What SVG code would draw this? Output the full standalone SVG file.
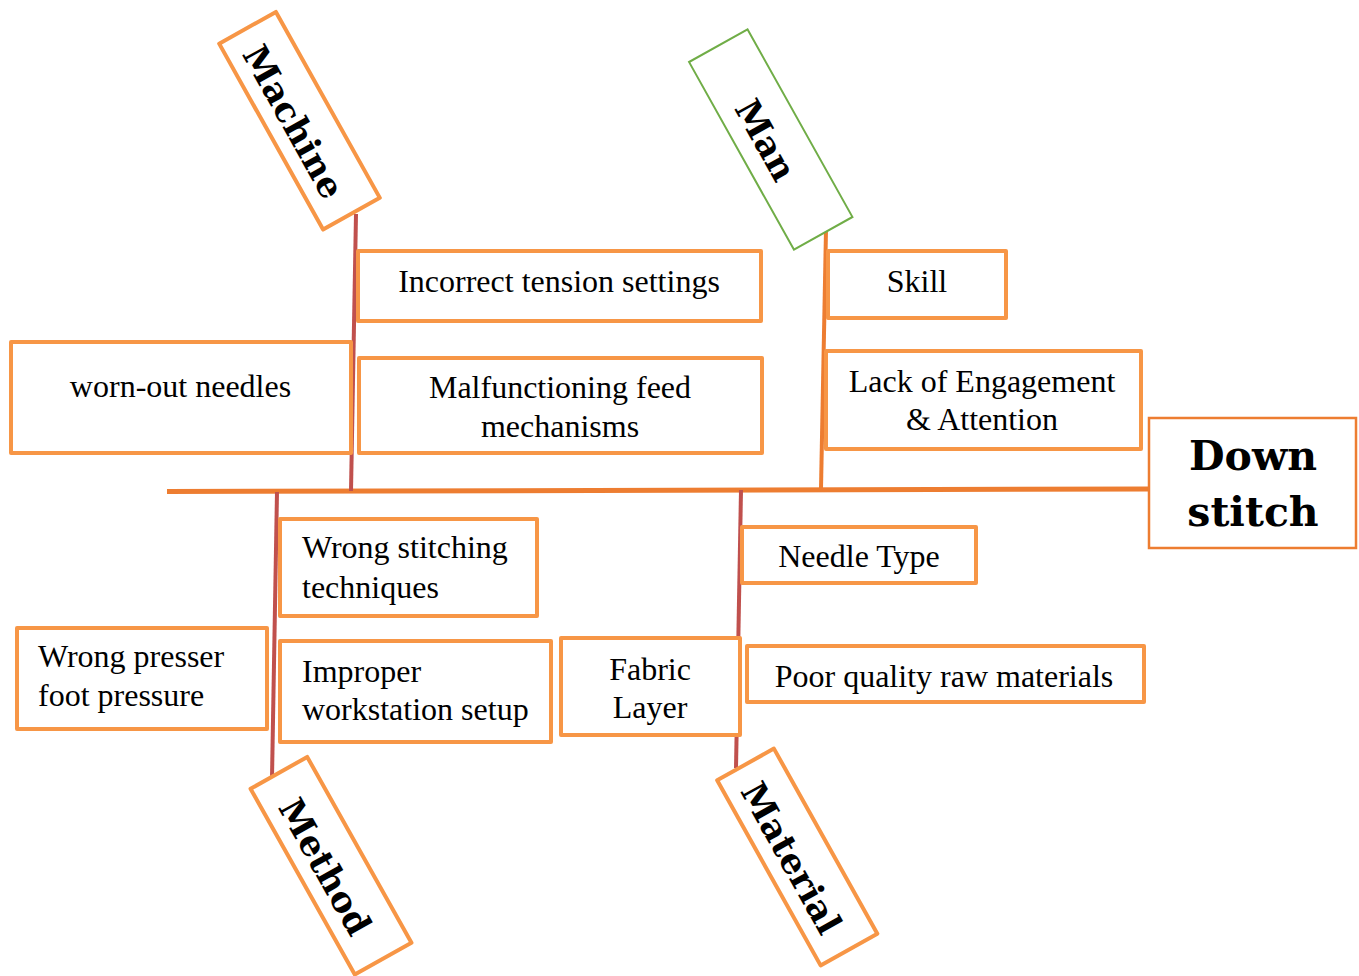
<svg xmlns="http://www.w3.org/2000/svg" width="1359" height="976" viewBox="0 0 1359 976">
  <style>
    .box { fill: #ffffff; stroke: #F79646; stroke-width: 4; stroke-linejoin: round; }
    .box-green { fill: #ffffff; stroke: #70AD47; stroke-width: 2; }
    .box-head { fill: #ffffff; stroke: #ED7D31; stroke-width: 2.5; }
    .t { font-family: "Liberation Serif", "Times New Roman", serif; font-size: 32px; fill: #000000; }
    .c { text-anchor: middle; }
    .cat { font-family: "DejaVu Serif", "Liberation Serif", serif; font-weight: bold; font-size: 35px; fill: #000000; text-anchor: middle; }
    .head { font-family: "DejaVu Serif", "Liberation Serif", serif; font-weight: bold; font-size: 41px; fill: #000000; text-anchor: middle; }
    .spine { stroke: #ED7D31; stroke-width: 5; fill: none; }
    .bone-red { stroke: #C0504D; stroke-width: 4; fill: none; }
    .bone-orange { stroke: #ED7D31; stroke-width: 4; fill: none; }
  </style>

  <rect width="1359" height="976" fill="#ffffff"/>

  <!-- fishbone spine and category bones -->
  <g id="connectors">
    <line class="spine" x1="167" y1="491.5" x2="1149" y2="489"/>
    <line class="bone-red" x1="356" y1="214" x2="351" y2="491"/>
    <line class="bone-orange" x1="826" y1="230" x2="821" y2="489"/>
    <line class="bone-red" x1="277" y1="492" x2="272" y2="778"/>
    <line class="bone-red" x1="741" y1="490" x2="736" y2="768"/>
  </g>

  <!-- category labels -->
  <g id="machine" transform="translate(299.5,120.75) rotate(60.8)">
    <rect class="box" x="-106.5" y="-32.5" width="213" height="65"/>
    <text class="cat" x="-2" y="18">Machine</text>
  </g>
  <g id="man" transform="translate(770.75,139.5) rotate(60.8)">
    <rect class="box-green" x="-107.5" y="-33.5" width="215" height="67"/>
    <text class="cat" x="-2" y="17">Man</text>
  </g>
  <g id="method" transform="translate(331,865.75) rotate(60.7)">
    <rect class="box" x="-106.5" y="-32.5" width="213" height="65"/>
    <text class="cat" x="-2" y="18">Method</text>
  </g>
  <g id="material" transform="translate(797.25,857) rotate(60.8)">
    <rect class="box" x="-106" y="-32.5" width="212" height="65"/>
    <text class="cat" x="-2" y="18">Material</text>
  </g>

  <!-- effect -->
  <g id="down-stitch">
    <rect class="box-head" x="1149" y="418" width="207" height="130"/>
    <text class="head" x="1253" y="470">Down</text>
    <text class="head" x="1253" y="526">stitch</text>
  </g>

  <!-- Machine causes -->
  <g id="incorrect-tension">
    <rect class="box" x="358" y="251" width="403" height="70"/>
    <text class="t c" x="559" y="292">Incorrect tension settings</text>
  </g>
  <g id="worn-out-needles">
    <rect class="box" x="11" y="342" width="340" height="111"/>
    <text class="t c" x="180.5" y="397">worn-out needles</text>
  </g>
  <g id="malfunctioning-feed">
    <rect class="box" x="359" y="358" width="403" height="95"/>
    <text class="t c" x="560" y="398">Malfunctioning feed</text>
    <text class="t c" x="560" y="437">mechanisms</text>
  </g>

  <!-- Man causes -->
  <g id="skill">
    <rect class="box" x="828" y="251" width="178" height="67"/>
    <text class="t c" x="917" y="292">Skill</text>
  </g>
  <g id="lack-of-engagement">
    <rect class="box" x="826" y="351" width="315" height="98"/>
    <text class="t c" x="982" y="392">Lack of Engagement</text>
    <text class="t c" x="982" y="430">&amp; Attention</text>
  </g>

  <!-- Method causes -->
  <g id="wrong-stitching">
    <rect class="box" x="280" y="519" width="257" height="97"/>
    <text class="t" x="302" y="558">Wrong stitching</text>
    <text class="t" x="302" y="598">techniques</text>
  </g>
  <g id="wrong-presser">
    <rect class="box" x="17" y="628" width="250" height="101"/>
    <text class="t" x="38" y="667">Wrong presser</text>
    <text class="t" x="38" y="706">foot pressure</text>
  </g>
  <g id="improper-workstation">
    <rect class="box" x="280" y="641" width="271" height="101"/>
    <text class="t" x="302" y="682">Improper</text>
    <text class="t" x="302" y="720">workstation setup</text>
  </g>

  <!-- Material causes -->
  <g id="needle-type">
    <rect class="box" x="742" y="527" width="234" height="56"/>
    <text class="t c" x="859" y="567">Needle Type</text>
  </g>
  <g id="fabric-layer">
    <rect class="box" x="561" y="638" width="179" height="97"/>
    <text class="t c" x="650" y="680">Fabric</text>
    <text class="t c" x="650" y="718">Layer</text>
  </g>
  <g id="poor-quality">
    <rect class="box" x="747" y="646" width="397" height="56"/>
    <text class="t c" x="944" y="687">Poor quality raw materials</text>
  </g>
</svg>
